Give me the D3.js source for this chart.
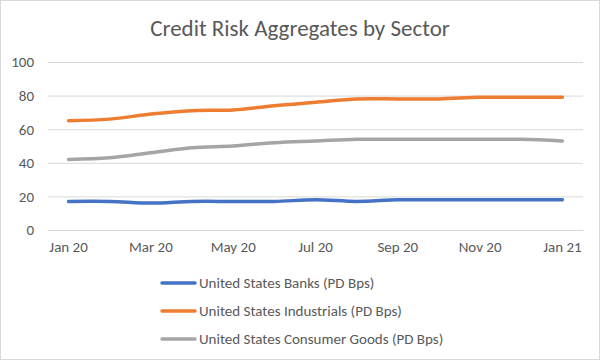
<!DOCTYPE html>
<html><head><meta charset="utf-8">
<script src="https://cdn.jsdelivr.net/npm/d3@7"></script>
<style>html,body{margin:0;padding:0;background:#fff;}svg{display:block;}</style>
</head><body>
<svg id="chart" width="600" height="360"></svg>
<script>
const months = ["Jan 20","Feb 20","Mar 20","Apr 20","May 20","Jun 20","Jul 20","Aug 20","Sep 20","Oct 20","Nov 20","Dec 20","Jan 21"];
const banks = [17,17,16,17,17,17,18,17,18,18,18,18,18];
const industrials = [65,66,69,71,71.5,74,76,78,78,78,79,79,79];
const consumer = [42,43,46,49,50,52,53,54,54,54,54,54,53];
const yTicks = [0,20,40,60,80,100];
const seriesNames = ["United States Banks (PD Bps)","United States Industrials (PD Bps)","United States Consumer Goods (PD Bps)"];
const seriesColors = ["#4472C4","#ED7D31","#A5A5A5"];
const title = "Credit Risk Aggregates by Sector";

(function(){
const series = [banks, industrials, consumer].map((v,i)=>({name:seriesNames[i], color:seriesColors[i], values:v}));
const font = "Calibri, Carlito, 'Open Sans', 'Liberation Sans', sans-serif";
const svg = d3.select("#chart");
svg.append("rect").attr("x",0.5).attr("y",0.5).attr("width",599).attr("height",359)
  .attr("fill","#fff").attr("stroke","#d9d9d9");

const mLeft=48, mRight=583, mTop=62, mBottom=230;
const x = d3.scaleBand().domain(months).range([mLeft,mRight]);
const y = d3.scaleLinear().domain([0,100]).range([mBottom,mTop]);

svg.append("text").attr("x",300).attr("y",36).attr("text-anchor","middle")
  .attr("font-family",font).attr("font-size",23).attr("fill","#595959").text(title);

const yAxis = svg.append("g").attr("transform",`translate(${mLeft},0)`)
  .call(d3.axisLeft(y).tickValues(yTicks).tickSize(-(mRight-mLeft)).tickPadding(14));
yAxis.select(".domain").remove();
yAxis.selectAll("line").attr("stroke","#d9d9d9");
yAxis.selectAll("text").attr("font-family",font).attr("font-size",15).attr("fill","#595959");

const xAxis = svg.append("g").attr("transform",`translate(0,${mBottom})`)
  .call(d3.axisBottom(x).tickValues(months.filter((d,i)=>i%2===0)).tickSize(0).tickPadding(11));
xAxis.select(".domain").attr("stroke","#d9d9d9");
xAxis.selectAll("text").attr("font-family",font).attr("font-size",15).attr("fill","#595959");

const line = d3.line().x((d,i)=>x(months[i])+x.bandwidth()/2).y(d=>y(d)).curve(d3.curveCatmullRom.alpha(0.5));
svg.append("g").selectAll("path").data(series).join("path")
  .attr("d",d=>line(d.values)).attr("fill","none").attr("stroke",d=>d.color)
  .attr("stroke-width",3.5).attr("stroke-linecap","round").attr("stroke-linejoin","round");

const leg = svg.append("g").selectAll("g").data(series).join("g")
  .attr("transform",(d,i)=>`translate(162,${283+i*28})`);
leg.append("line").attr("x1",0).attr("x2",33).attr("stroke",d=>d.color).attr("stroke-width",3.5).attr("stroke-linecap","round");
leg.append("text").attr("x",37).attr("y",5).attr("font-family",font).attr("font-size",15).attr("fill","#595959").text(d=>d.name);
})();
</script>
</body></html>
